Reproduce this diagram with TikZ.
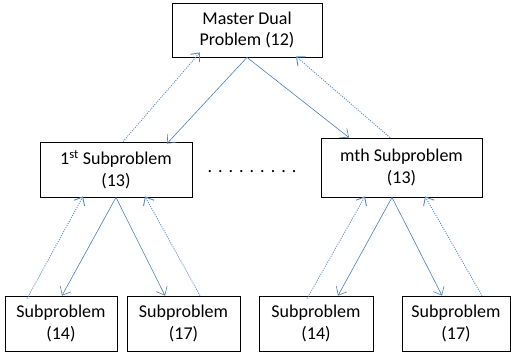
\documentclass[tikz,border=0pt]{standalone}
\usepackage{fontspec}
\setmainfont{Carlito}
\usetikzlibrary{arrows.meta}

\definecolor{solidblue}{HTML}{4A7EBB}
\definecolor{dotblue}{HTML}{5A88C6}

\tikzset{
    probbox/.style={draw, thick, align=center, inner sep=0pt,
        font=\fontsize{18}{21.5}\selectfont},
    down/.style={->, solidblue, semithick},
    up/.style={->, dotblue, line width=0.9pt, dash pattern=on 1pt off 1.3pt}
}

\begin{document}
\begin{tikzpicture}[x=1pt, y=-1pt,
    >={Straight Barb[length=7pt, width=12pt]}]
            \useasboundingbox (0,0) rectangle (511,358);

            \node[probbox, minimum width=150pt, minimum height=54pt]
                (master) at (247,30) {Master Dual\\Problem (12)};
            \node[probbox, minimum width=152pt, minimum height=55pt]
                (sub1) at (116,169.5) {1\textsuperscript{st} Subproblem\\(13)};
            \node[probbox, minimum width=161pt, minimum height=59pt]
                (subm) at (401.5,167.5) {mth Subproblem\\(13)};
            \node[font=\fontsize{18}{21.5}\selectfont] (dots) at (252,172)
                {.\,\,.\,\,.\,\,.\,\,.\,\,.\,\,.\,\,.\,\,.};

            \node[probbox, minimum width=112pt, minimum height=55pt]
                (sub1a) at (61,323.5) {Subproblem\\(14)};
            \node[probbox, minimum width=113pt, minimum height=55pt]
                (sub1b) at (183.5,323.5) {Subproblem\\(17)};
            \node[probbox, minimum width=114pt, minimum height=55pt]
                (subma) at (316,323.5) {Subproblem\\(14)};
            \node[probbox, minimum width=108pt, minimum height=55pt]
                (submb) at (456,323.5) {Subproblem\\(17)};

            \path
            % master to the subproblems and back
            (master.south)              edge[down] ([xshift=51pt,yshift=-2pt]sub1.north)
            (master.south)              edge[down] ([xshift=-52.5pt]subm.north)
            ([xshift=7pt]sub1.north)    edge[up]   ([xshift=-47pt,yshift=5pt]master.south)
            ([xshift=-11.5pt]subm.north) edge[up]  ([xshift=49pt,yshift=1pt]master.south)
            % 1st subproblem
            (sub1.south)                edge[down] ([xshift=1pt]sub1a.north)
            (sub1.south)                edge[down] ([xshift=-18.5pt]sub1b.north)
            ([xshift=-34pt,yshift=-3pt]sub1a.north) edge[up] ([xshift=-33pt,yshift=1pt]sub1.south)
            ([xshift=16.5pt]sub1b.north) edge[up]  ([xshift=29pt,yshift=1pt]sub1.south)
            % mth subproblem
            ([xshift=-9.5pt]subm.south) edge[down] ([xshift=22pt]subma.north)
            ([xshift=-9.5pt]subm.south) edge[down] ([xshift=-14pt]submb.north)
            ([xshift=-9pt,yshift=-3pt]subma.north) edge[up] ([xshift=-36.5pt,yshift=1pt]subm.south)
            ([xshift=26pt]submb.north)  edge[up]   ([xshift=23.5pt,yshift=1pt]subm.south);
        \end{tikzpicture}
\end{document}
